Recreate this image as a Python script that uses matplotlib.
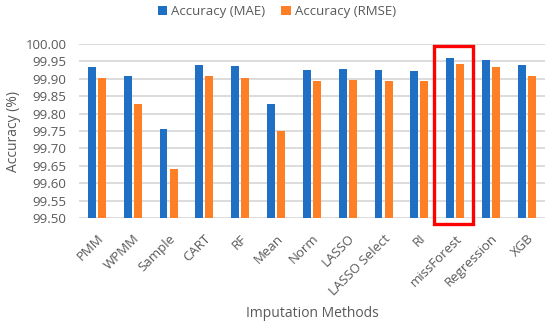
"""Bar chart of imputation method accuracy (MAE vs RMSE)."""

import matplotlib
matplotlib.use("Agg")
import matplotlib.pyplot as plt
import numpy as np
from matplotlib.patches import Rectangle

# Data
methods = ["PMM", "WPMM", "Sample", "CART", "RF", "Mean", "Norm", "LASSO",
           "LASSO Select", "RI", "missForest", "Regression", "XGB"]
acc_mae = [99.933, 99.909, 99.757, 99.939, 99.936, 99.829, 99.926, 99.927,
           99.925, 99.923, 99.961, 99.955, 99.940]
acc_rmse = [99.901, 99.828, 99.642, 99.908, 99.902, 99.749, 99.894, 99.897,
            99.895, 99.893, 99.943, 99.935, 99.908]
highlight = "missForest"

# Styling
blue = "#1F6FC5"
orange = "#FF7F27"
text_gray = "#595959"
grid_gray = "#D9D9D9"

plt.rcParams["font.family"] = ["Open Sans", "DejaVu Sans"]

fig = plt.figure(figsize=(5.5, 3.23), dpi=100)
ax = fig.add_axes([0.1436, 0.325, 0.847, 0.5388])

x = np.arange(len(methods))
w = 0.22
ax.bar(x - 0.14, acc_mae, w, color=blue, label="Accuracy (MAE)", zorder=3)
ax.bar(x + 0.14, acc_rmse, w, color=orange, label="Accuracy (RMSE)", zorder=3)

ax.set_xlim(-0.5, len(methods) - 0.5)
ax.set_ylim(99.5, 100.0)
ax.set_yticks(np.arange(99.50, 100.001, 0.05))
ax.yaxis.set_major_formatter(matplotlib.ticker.FormatStrFormatter("%.2f"))
ax.grid(axis="y", color=grid_gray, linewidth=1.3, zorder=0)
for s in ax.spines.values():
    s.set_visible(False)

ax.set_xticks(x)
ax.set_xticklabels(methods, rotation=45, ha="right", rotation_mode="anchor")
ax.tick_params(axis="x", length=0, pad=10, labelsize=9.5, labelcolor=text_gray)
ax.tick_params(axis="y", length=0, pad=9, labelsize=9.5, labelcolor=text_gray)

ax.set_ylabel("Accuracy (%)", fontsize=10, color=text_gray, labelpad=3)
ax.set_xlabel("Imputation Methods", fontsize=10, color=text_gray, labelpad=6)

# Red box around the highlighted method
i = methods.index(highlight)
box = Rectangle((i - 0.58, 99.483), 1.08, 0.51, fill=False,
                edgecolor="#FF0000", linewidth=2.4, clip_on=False, zorder=5)
ax.add_patch(box)

ax.legend(loc="upper center", bbox_to_anchor=(0.425, 1.29), ncol=2, frameon=False,
          fontsize=9.5, labelcolor=text_gray, handlelength=0.7, handleheight=0.7,
          handletextpad=0.35, columnspacing=1.2)

fig.savefig("out.png", dpi=100)
